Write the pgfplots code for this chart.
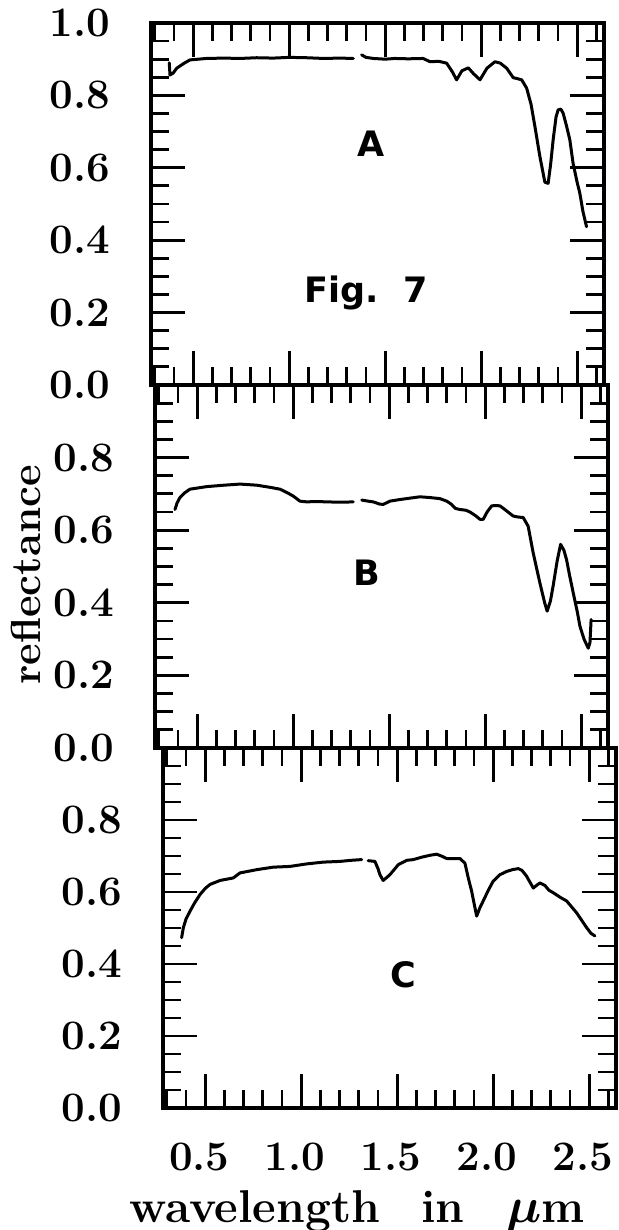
\documentclass[border=0pt]{standalone}
\usepackage{fontspec}
\usepackage{pgfplots}
\pgfplotsset{compat=1.18}
\newfontfamily\labelfont{DejaVu Sans}

\pgfplotsset{
  panel/.style={
    scale only axis,
    width=226.5pt,
    xmin=0.28, xmax=2.64, ymin=0, ymax=1,
    xtick={0.5,1.0,1.5,2.0,2.5},
    minor xtick={0.3,0.4,0.6,0.7,0.8,0.9,1.1,1.2,1.3,1.4,1.6,1.7,1.8,1.9,2.1,2.2,2.3,2.4,2.6},
    minor ytick={0.05,0.1,0.15,0.25,0.3,0.35,0.45,0.5,0.55,0.65,0.7,0.75,0.85,0.9,0.95},
    tick align=inside,
    xtick pos=both, ytick pos=both,
    major tick length=17pt, minor tick length=9pt,
    tick style={black, line width=1.4pt},
    axis line style={line width=2.2pt},
    ticklabel style={font=\fontsize{21}{21}\selectfont\bfseries},
    yticklabel style={xshift=-17pt},
    xticklabel style={yshift=-14pt, xshift=-3pt},
    /pgf/number format/assume math mode=true,
    /pgf/number format/fixed,
    /pgf/number format/fixed zerofill,
    /pgf/number format/precision=1,
    clip=false,
  },
  spec/.style={black, line width=1.5pt, line join=round, line cap=round},
}

\begin{document}
\begin{tikzpicture}[x=1pt,y=1pt]
\useasboundingbox (0,0) rectangle (309,615);

% panel A
\begin{axis}[panel, at={(75.5pt,422.5pt)}, anchor=south west, height=181pt,
  ytick={0,0.2,0.4,0.6,0.8,1.0}, xticklabels={}]
\addplot[spec] coordinates {
(0.375,0.890) (0.379,0.856) (0.396,0.862) (0.414,0.875) (0.45,0.888) (0.483,0.898)
(0.57,0.902) (0.66,0.903) (0.744,0.902) (0.83,0.904) (0.917,0.903) (1.00,0.905)
(1.09,0.904) (1.18,0.902) (1.264,0.903) (1.334,0.902)
};
\addplot[spec] coordinates {
(1.377,0.912) (1.40,0.905) (1.438,0.902) (1.50,0.900) (1.55,0.902) (1.62,0.901)
(1.698,0.902) (1.733,0.893) (1.78,0.894) (1.82,0.889) (1.85,0.865) (1.872,0.843)
(1.90,0.868) (1.933,0.876) (1.96,0.860) (1.994,0.843) (2.03,0.875) (2.072,0.893)
(2.10,0.889) (2.133,0.875) (2.167,0.849) (2.19,0.846) (2.211,0.843) (2.237,0.820)
(2.26,0.775) (2.280,0.714) (2.306,0.631) (2.332,0.560) (2.349,0.557) (2.362,0.610)
(2.375,0.677) (2.39,0.740) (2.401,0.760) (2.415,0.762) (2.427,0.751) (2.445,0.715)
(2.462,0.677) (2.479,0.612) (2.50,0.560) (2.514,0.530) (2.53,0.480) (2.549,0.437)
};
\node[font=\labelfont\bfseries\fontsize{17.5}{18}\selectfont] at (axis cs:1.426,0.666) {A};
\node[font=\labelfont\bfseries\fontsize{17.5}{18}\selectfont] at (axis cs:1.400,0.254) {Fig.\hspace{0.7em}7};
\end{axis}

% panel B
\begin{axis}[panel, at={(77.5pt,241pt)}, anchor=south west, height=181.5pt,
  ytick={0,0.2,0.4,0.6,0.8}, xticklabels={},
  ylabel={reflectance},
  every axis y label/.style={at={(axis description cs:-0.285,0.477)}, rotate=90, anchor=center,
    font=\fontsize{21}{21}\selectfont\bfseries}]
\addplot[spec] coordinates {
(0.384,0.657) (0.395,0.675) (0.410,0.690) (0.435,0.703) (0.462,0.713) (0.549,0.720)
(0.64,0.724) (0.723,0.727) (0.810,0.724) (0.88,0.718) (0.931,0.713) (0.97,0.703)
(1.000,0.694) (1.035,0.680) (1.070,0.678) (1.12,0.679) (1.174,0.678) (1.25,0.677)
(1.313,0.678)
};
\addplot[spec] coordinates {
(1.357,0.683) (1.39,0.680) (1.417,0.678) (1.45,0.672) (1.469,0.671) (1.504,0.680)
(1.55,0.684) (1.591,0.687) (1.660,0.692) (1.71,0.690) (1.764,0.687) (1.80,0.680)
(1.825,0.671) (1.845,0.660) (1.868,0.657) (1.90,0.655) (1.921,0.650) (1.95,0.640)
(1.973,0.630) (1.990,0.630) (2.01,0.650) (2.034,0.667) (2.055,0.668) (2.077,0.667)
(2.095,0.660) (2.112,0.653) (2.146,0.639) (2.175,0.636) (2.198,0.635) (2.224,0.611)
(2.250,0.538) (2.285,0.455) (2.310,0.400) (2.323,0.377) (2.340,0.405) (2.354,0.446)
(2.375,0.515) (2.393,0.561) (2.410,0.545) (2.424,0.519) (2.44,0.475) (2.459,0.427)
(2.48,0.375) (2.494,0.335) (2.515,0.300) (2.537,0.275) (2.546,0.290) (2.552,0.354)
};
\node[font=\labelfont\bfseries\fontsize{17.5}{18}\selectfont] at (axis cs:1.383,0.483) {B};
\end{axis}

% panel C
\begin{axis}[panel, at={(81.5pt,61pt)}, anchor=south west, height=180pt,
  ytick={0,0.2,0.4,0.6,0.8},
  xlabel={wavelength\hspace{0.9em}in\hspace{0.9em}{\boldmath$\mu$}m},
  every axis x label/.style={at={(axis description cs:0.428,-0.317)}, anchor=base,
    font=\fontsize{23}{23}\selectfont\bfseries}]
\addplot[spec] coordinates {
(0.377,0.473) (0.386,0.501) (0.40,0.525) (0.421,0.547) (0.445,0.570) (0.473,0.593)
(0.50,0.610) (0.525,0.621) (0.577,0.632) (0.646,0.639) (0.681,0.653) (0.768,0.662)
(0.854,0.669) (0.941,0.671) (1.028,0.678) (1.115,0.683) (1.202,0.685) (1.26,0.688)
(1.315,0.690)
};
\addplot[spec] coordinates {
(1.349,0.687) (1.384,0.685) (1.40,0.665) (1.410,0.648) (1.427,0.632) (1.445,0.640)
(1.462,0.648) (1.506,0.676) (1.55,0.688) (1.584,0.690) (1.63,0.697) (1.671,0.702)
(1.706,0.705) (1.73,0.700) (1.758,0.693) (1.80,0.693) (1.827,0.693) (1.853,0.680)
(1.870,0.640) (1.888,0.602) (1.914,0.533) (1.930,0.555) (1.948,0.575) (1.975,0.605)
(2.000,0.630) (2.035,0.648) (2.070,0.657) (2.10,0.662) (2.131,0.665) (2.150,0.660)
(2.174,0.644) (2.209,0.611) (2.230,0.620) (2.244,0.625) (2.270,0.618) (2.290,0.605)
(2.313,0.598) (2.35,0.585) (2.383,0.575) (2.435,0.542) (2.487,0.501) (2.510,0.485)
(2.530,0.478)
};
\node[font=\labelfont\bfseries\fontsize{17.5}{18}\selectfont] at (axis cs:1.53,0.370) {C};
\end{axis}
\end{tikzpicture}
\end{document}
